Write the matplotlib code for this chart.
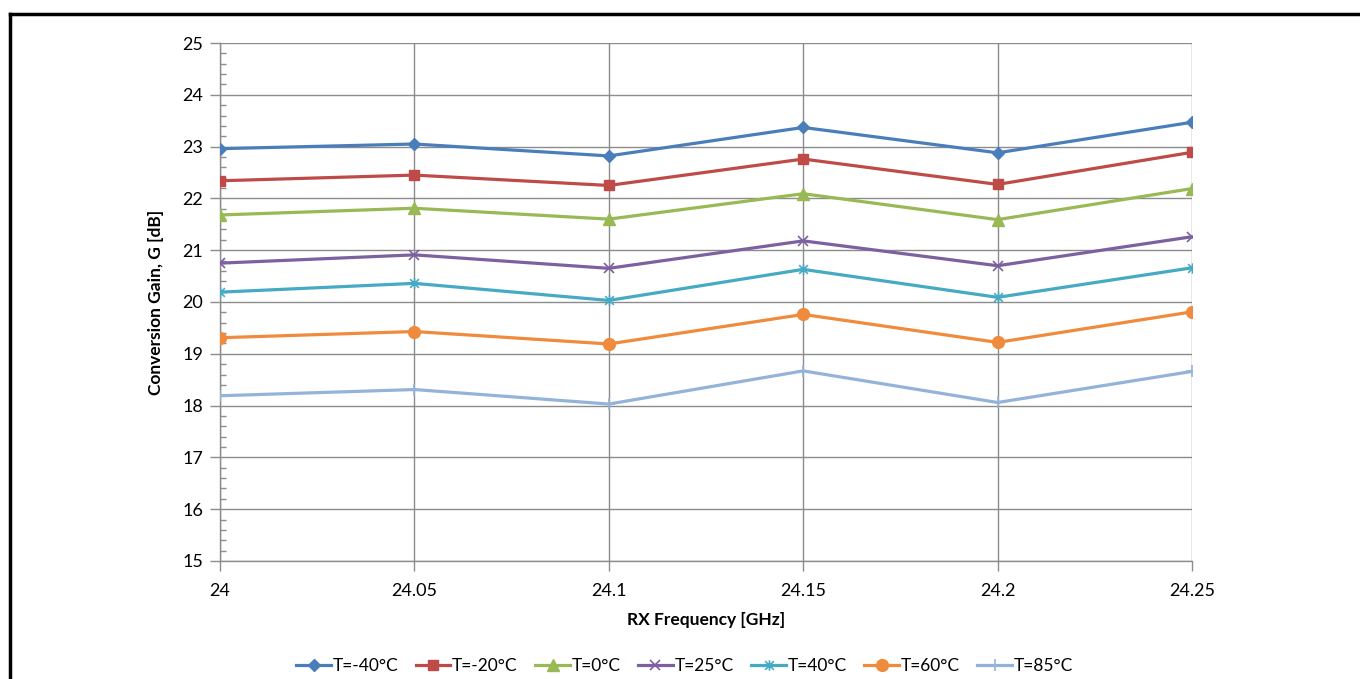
import numpy as np
import matplotlib
matplotlib.use("Agg")
import matplotlib.pyplot as plt
from matplotlib.path import Path
from matplotlib.lines import Line2D
from matplotlib.ticker import MultipleLocator

plt.rcParams['font.family'] = ['Lato', 'DejaVu Sans']

freq = [24.0, 24.05, 24.1, 24.15, 24.2, 24.25]
freq_labels = ["24", "24.05", "24.1", "24.15", "24.2", "24.25"]

gain_m40 = [22.96, 23.05, 22.82, 23.37, 22.88, 23.47]
gain_m20 = [22.34, 22.45, 22.25, 22.76, 22.27, 22.89]
gain_0 = [21.68, 21.81, 21.60, 22.09, 21.59, 22.19]
gain_25 = [20.75, 20.91, 20.65, 21.18, 20.70, 21.26]
gain_40 = [20.19, 20.36, 20.03, 20.63, 20.09, 20.66]
gain_60 = [19.31, 19.43, 19.19, 19.76, 19.22, 19.81]
gain_85 = [18.19, 18.31, 18.03, 18.67, 18.06, 18.66]

labels = ["T=-40°C", "T=-20°C", "T=0°C", "T=25°C", "T=40°C", "T=60°C", "T=85°C"]
colors = ["#4A7EBB", "#BE4B48", "#98B954", "#7D60A0", "#46AAC5", "#F08A3C", "#94B3D9"]

# asterisk marker: an x with a vertical stroke through it
star = Path([(-1, -1), (1, 1), (-1, 1), (1, -1), (0, -1.2), (0, 1.2)],
            [Path.MOVETO, Path.LINETO, Path.MOVETO, Path.LINETO, Path.MOVETO, Path.LINETO])

styles = [
    dict(marker="D", ms=6.5),
    dict(marker="s", ms=7.5),
    dict(marker="^", ms=8),
    dict(marker="x", ms=7.5, mew=1.2),
    dict(marker=star, ms=7.5, mew=1.2),
    dict(marker="o", ms=8.5),
    dict(marker="+", ms=8, mew=1.2),
]
series = [gain_m40, gain_m20, gain_0, gain_25, gain_40, gain_60, gain_85]

fig = plt.figure(figsize=(13.6, 6.79), dpi=100)
ax = fig.add_axes([220/1360, 1-561/679, (1192-220)/1360, (561-43)/679])

grid_c = "#8C8C8C"
for vals, lab, col, st in zip(series, labels, colors, styles):
    ax.plot(freq, vals, color=col, lw=2.3, label=lab, mec=col, mfc=col,
            solid_joinstyle="round", zorder=3, **st)

ax.set_xlim(24.0, 24.25)
ax.set_ylim(15, 25)
ax.set_xticks(freq)
ax.set_xticklabels(freq_labels)
ax.set_yticks(range(15, 26))
ax.yaxis.set_minor_locator(MultipleLocator(0.2))
ax.grid(True, which="major", color=grid_c, lw=1.0, zorder=1)

for s in ["top", "right"]:
    ax.spines[s].set_visible(False)
for s in ["left", "bottom"]:
    ax.spines[s].set_color(grid_c)
    ax.spines[s].set_linewidth(1.0)

ax.tick_params(axis="both", which="major", direction="out", length=7,
               width=1.0, color=grid_c, labelsize=13, pad=5)
ax.tick_params(axis="y", which="minor", direction="in", length=4,
               width=1.0, color=grid_c)
ax.tick_params(axis="x", pad=9)

ax.set_xlabel("RX Frequency [GHz]", fontsize=12.5, fontweight="bold", labelpad=9)
ax.set_ylabel("Conversion Gain, G [dB]", fontsize=12.5, fontweight="bold", labelpad=13)

ax.legend(loc="center", bbox_to_anchor=(0.478, -0.202), ncol=7, frameon=False,
          fontsize=12.5, handlelength=2.0, columnspacing=1.0, handletextpad=0.1)

# page frame lines along the top and left edges
fig.add_artist(Line2D([10/1360, 10/1360], [0, 1-14/679], color="black", lw=2.5,
                      transform=fig.transFigure))
fig.add_artist(Line2D([10/1360, 1], [1-14/679, 1-14/679], color="black", lw=2.5,
                      transform=fig.transFigure))

fig.savefig("out.png", dpi=100)
